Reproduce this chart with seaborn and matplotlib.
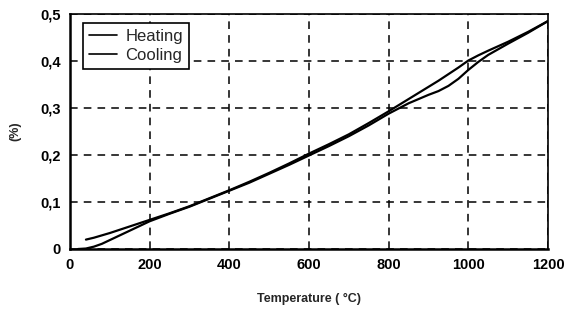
import numpy as np
import pandas as pd
import seaborn as sns
import matplotlib.pyplot as plt
from matplotlib.ticker import FuncFormatter

# Heating curve
heat_t = [20, 40, 60, 80, 100, 125, 150, 175, 200, 250, 300, 350, 400, 450, 500, 550, 600, 650, 700, 750, 800,
          850, 900, 925, 950, 975, 1000, 1025, 1050, 1100, 1150, 1200]
heat_v = [0.0, 0.001, 0.005, 0.011, 0.019, 0.029, 0.039, 0.049, 0.059, 0.075, 0.09, 0.107, 0.124, 0.141, 0.16,
          0.179, 0.199, 0.219, 0.24, 0.263, 0.288, 0.31, 0.328, 0.336, 0.347, 0.362, 0.381, 0.398, 0.413, 0.437,
          0.46, 0.485]

# Cooling curve
cool_t = [40, 60, 80, 100, 125, 150, 175, 200, 250, 300, 350, 400, 450, 500, 550, 600, 650, 700, 750, 800,
          850, 900, 925, 950, 975, 1000, 1025, 1050, 1100, 1150, 1200]
cool_v = [0.02, 0.024, 0.029, 0.034, 0.041, 0.048, 0.055, 0.062, 0.076, 0.091, 0.108, 0.125, 0.143, 0.162,
          0.182, 0.203, 0.223, 0.244, 0.268, 0.293, 0.319, 0.345, 0.358, 0.372, 0.386, 0.401, 0.412, 0.422,
          0.441, 0.462, 0.485]

df = pd.concat([
    pd.DataFrame({'T': heat_t, 'v': heat_v, 'serie': 'Heating'}),
    pd.DataFrame({'T': cool_t, 'v': cool_v, 'serie': 'Cooling'}),
])

sns.set_style('white')
plt.rcParams['font.family'] = ['Liberation Sans', 'DejaVu Sans']
plt.rcParams['font.weight'] = 'bold'

fig = plt.figure(figsize=(5.66, 3.13), dpi=100)
ax = fig.add_axes([70/566, 1-249/313, 478/566, 235/313])

sns.lineplot(data=df, x='T', y='v', hue='serie', palette=['black', 'black'],
             sort=False, linewidth=1.6, ax=ax, legend=True)

ax.set_xlim(0, 1200)
ax.set_ylim(0, 0.5)
ax.set_xticks(range(0, 1201, 200))
ax.set_yticks([0, 0.1, 0.2, 0.3, 0.4, 0.5])
ax.yaxis.set_major_formatter(FuncFormatter(lambda v, p: '0' if v == 0 else ('%.1f' % v).replace('.', ',')))
ax.grid(True, linestyle=(0, (5, 4)), color='black', linewidth=1.1)
ax.tick_params(direction='inout', length=6, width=1, colors='black', labelsize=10.5)
for lab in ax.get_xticklabels() + ax.get_yticklabels():
    lab.set_fontweight('bold')
for s in ax.spines.values():
    s.set_color('black')
    s.set_linewidth(1.2)
ax.spines['left'].set_linewidth(1.8)
ax.spines['bottom'].set_linewidth(1.8)

ax.set_xlabel('Temperature ( °C)', fontsize=9, fontweight='bold', labelpad=15)
ax.set_ylabel('(%)', fontsize=9, fontweight='bold', labelpad=14)

leg = ax.legend(loc='upper left', bbox_to_anchor=(0.027, 0.962), frameon=True, fancybox=False,
                edgecolor='black', fontsize=12, handlelength=1.7, borderpad=0.35,
                labelspacing=0.25, handletextpad=0.5, borderaxespad=0)
leg.get_frame().set_linewidth(1.2)
leg.get_frame().set_alpha(1)
for t in leg.get_texts():
    t.set_fontweight('normal')
for l in leg.get_lines():
    l.set_linewidth(1.2)

fig.savefig('out.png', dpi=100)
